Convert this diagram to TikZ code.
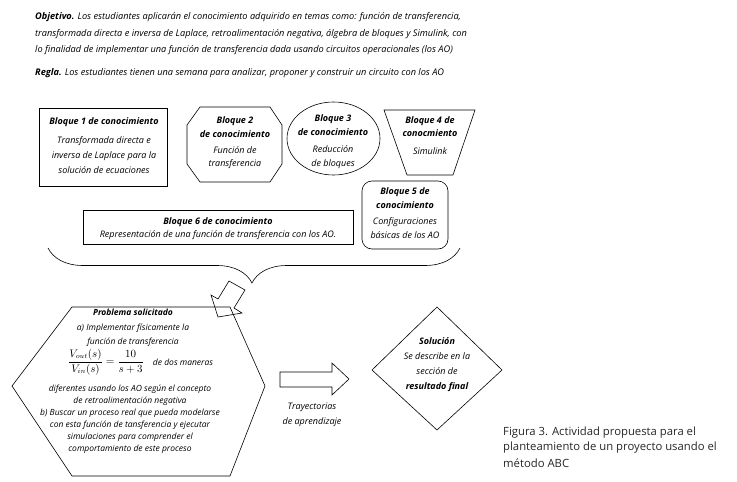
\documentclass[tikz,border=0pt]{standalone}
\usepackage{fontspec}
\setmainfont{Open Sans}
\usetikzlibrary{shapes.geometric,decorations.pathreplacing}
\begin{document}
\begin{tikzpicture}[x=1pt,y=-1pt,
  shp/.style={draw=black, line width=0.6pt},
  txt/.style={font=\fontsize{9}{14}\selectfont\itshape, align=center, inner sep=0pt},
  para/.style={font=\fontsize{9.2}{16}\selectfont\itshape, inner sep=0pt, anchor=west},
  captext/.style={font=\fontsize{11.3}{15}\selectfont, inner sep=0pt, anchor=west, text=black!85}]
\useasboundingbox (0,0) rectangle (737,482);

% heading paragraph
\node[para] (obj1) at (35,17) {\textbf{Objetivo.} Los estudiantes aplicarán el conocimiento adquirido en temas como: función de transferencia,};
\node[para] (obj2) at (35,34) {transformada directa e inversa de Laplace, retroalimentación negativa, álgebra de bloques y Simulink, con};
\node[para] (obj3) at (35,50) {lo finalidad de implementar una función de transferencia dada usando circuitos operacionales (los AO)};
\node[para] (regla) at (35,73) {\textbf{Regla.} Los estudiantes tienen una semana para analizar, proponer y construir un circuito con los AO};

% Bloque 1
\node[shp, rectangle, minimum width=128pt, minimum height=78pt, inner sep=0pt] (b1) at (103,147) {};
\node[txt, font=\fontsize{9}{15}\selectfont\itshape] (b1t) at (104,145.5) {\textbf{Bloque 1 de conocimiento}\\[4pt] Transformada directa e\\ inversa de Laplace para la\\ solución de ecuaciones};

% Bloque 2 (octagon)
\draw[shp] (200,107) -- (270,107) -- (282,125) -- (282,164) -- (270,182) -- (200,182) -- (187,164) -- (187,125) -- cycle;
\node[txt, font=\fontsize{9}{13.5}\selectfont\itshape] (b2t) at (235,143) {\textbf{Bloque 2}\\ \textbf{de conocimiento}\\[2.5pt] Función de\\ transferencia};

% Bloque 3 (ellipse)
\node[shp, ellipse, minimum width=93pt, minimum height=73pt, inner sep=0pt] (b3) at (333.5,138.5) {};
\node[txt, font=\fontsize{9}{14}\selectfont\itshape] (b3t) at (333,142) {\textbf{Bloque 3}\\ \textbf{de conocimiento}\\[3pt] Reducción\\ de bloques};

% Bloque 4 (trapezoid)
\draw[shp] (384,110) -- (475,110) -- (453,175) -- (407,175) -- cycle;
\node[txt, font=\fontsize{9}{12.5}\selectfont\itshape] (b4t) at (430,135.5) {\textbf{Bloque 4 de}\\ \textbf{conocmiento}\\[5.5pt] Simulink};

% Bloque 5 (rounded rectangle)
\draw[shp, rounded corners=10pt] (362,181) rectangle (448,249);
\node[txt, font=\fontsize{9}{14}\selectfont\itshape] (b5t) at (405,213.5) {\textbf{Bloque 5 de}\\ \textbf{conocimiento}\\[2pt] Configuraciones\\ básicas de los AO};

% Bloque 6
\node[shp, rectangle, minimum width=270pt, minimum height=34pt, inner sep=0pt] (b6) at (218,227) {};
\node[txt, font=\fontsize{9}{13}\selectfont\itshape] (b6t) at (218,229) {\textbf{Bloque 6 de conocimiento}\\ Representación de una función de transferencia con los AO.};

% brace
\coordinate (brL) at (48,248);
\coordinate (brR) at (460,248);
\draw[shp, decorate, decoration={brace, mirror, amplitude=35pt, aspect=0.495}] (brL) -- (brR);

% small block arrow
\draw[shp] (229,281) -- (245,290) -- (234,308) -- (242,313) -- (218,317) -- (211,295) -- (218,299) -- cycle;

% Problema (hexagon)
\draw[shp] (72,307) -- (230,307) -- (265,386) -- (230,476) -- (72,476) -- (12,386) -- cycle;
\node[txt, font=\fontsize{8.5}{14.5}\selectfont\itshape] (pt1) at (133,328) {\textbf{Problema solicitado}\\ a) Implementar físicamente la\\ función de transferencia};
\node[inner sep=0pt, font=\fontsize{10.5}{12}\selectfont] (frac) at (106,362) {$\displaystyle\frac{V_{out}(s)}{V_{in}(s)}=\frac{10}{s+3}$};
\node[txt, font=\fontsize{8.5}{12}\selectfont\itshape] (dos) at (183,362) {de dos maneras};
\node[txt, font=\fontsize{8.5}{12}\selectfont\itshape] (pt2) at (130,419) {diferentes usando los AO según el concepto\\ de retroalimentación negativa\\ b) Buscar un proceso real que pueda modelarse\\ con esta función de tansferencia y ejecutar\\ simulaciones para comprender el\\ comportamiento de este proceso};

% big block arrow
\draw[shp] (280,372) -- (332,372) -- (332,363) -- (349,379) -- (332,395) -- (332,387) -- (280,387) -- cycle;
\node[txt, font=\fontsize{9}{15}\selectfont\itshape] (tray) at (312,414.5) {Trayectorias\\ de aprendizaje};

% Solucion (diamond)
\draw[shp] (437,307) -- (502,370) -- (437,430) -- (372,370) -- cycle;
\node[txt, font=\fontsize{9}{15}\selectfont\itshape] (sol) at (437,364.5) {\textbf{Solución}\\ Se describe en la\\ sección de\\ \textbf{resultado final}};

% caption
\node[captext] (cap1) at (503,433) {Figura 3. Actividad propuesta para el};
\node[captext] (cap2) at (503,448) {planteamiento de un proyecto usando el};
\node[captext] (cap3) at (503,463) {método ABC};
\end{tikzpicture}
\end{document}
